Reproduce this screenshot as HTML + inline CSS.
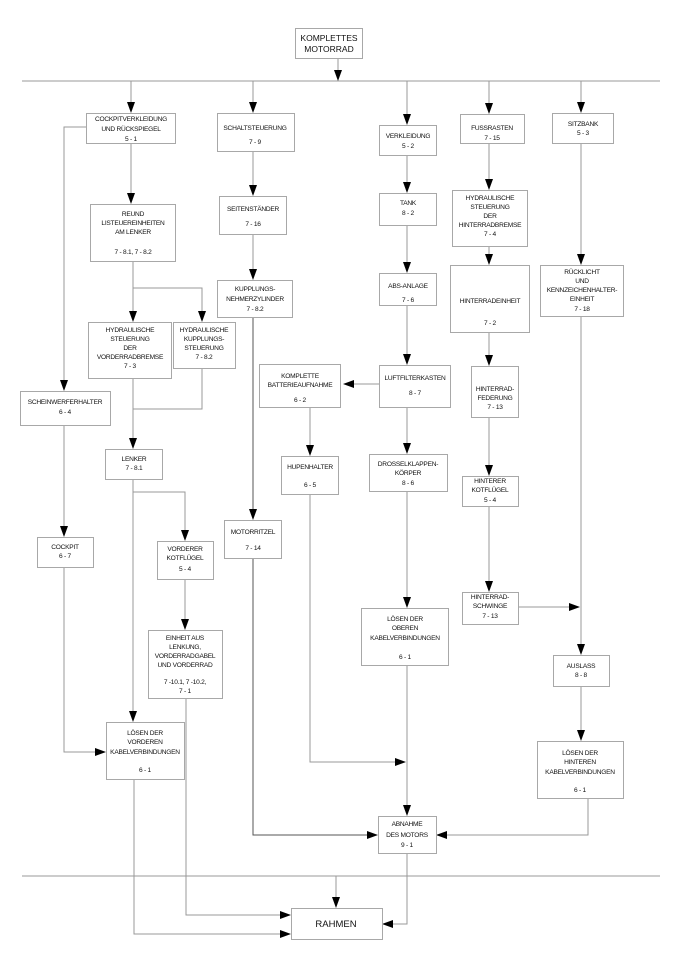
<!DOCTYPE html>
<html><head><meta charset="utf-8"><style>
html,body{margin:0;padding:0;background:#fff}
svg{display:block}
text{font-family:"Liberation Sans",sans-serif;font-size:6.6px;fill:#111;text-anchor:middle;letter-spacing:-0.25px}
.r{fill:#fff;stroke:#a8a8a8;stroke-width:1}
.l{stroke:#999;stroke-width:1;fill:none}
.d{stroke:#555;stroke-width:1;fill:none}
</style></head><body>
<svg width="679" height="965" viewBox="0 0 679 965" xmlns="http://www.w3.org/2000/svg">
<!-- lines -->
<g class="l">
<line x1="22" y1="81" x2="660" y2="81"/>
<line x1="22" y1="876" x2="660" y2="876"/>
<line x1="338" y1="58" x2="338" y2="72"/>
<line x1="131" y1="81" x2="131" y2="104"/>
<line x1="253" y1="81" x2="253" y2="104"/>
<line x1="407" y1="81" x2="407" y2="116"/>
<line x1="489" y1="81" x2="489" y2="105"/>
<line x1="581" y1="81" x2="581" y2="104"/>
<polyline points="86,127 64,127 64,382"/>
<line x1="131" y1="143" x2="131" y2="195"/>
<polyline points="133,261 133,313"/>
<polyline points="133,288 202,288 202,313"/>
<polyline points="133,378 133,440"/>
<polyline points="202,368 202,409 133,409"/>
<line x1="253" y1="151" x2="253" y2="187"/>
<line x1="253" y1="234" x2="253" y2="271"/>
<line x1="64" y1="425" x2="64" y2="528"/>
<polyline points="64,567 64,752 97,752"/>
<line x1="133" y1="479" x2="133" y2="713"/>
<polyline points="133,492 185,492 185,532"/>
<line x1="185" y1="579" x2="185" y2="621"/>
<polyline points="186,698 186,915 282,915"/>
<polyline points="134,780 134,934 282,934"/>
<line x1="407" y1="155" x2="407" y2="184"/>
<line x1="407" y1="225" x2="407" y2="264"/>
<line x1="407" y1="305" x2="407" y2="356"/>
<line x1="379" y1="384" x2="352" y2="384"/>
<line x1="310" y1="407" x2="310" y2="447"/>
<polyline points="310,494 310,762 397,762"/>
<line x1="407" y1="407" x2="407" y2="445"/>
<line x1="407" y1="491" x2="407" y2="599"/>
<line x1="407" y1="665" x2="407" y2="807"/>
<line x1="489" y1="143" x2="489" y2="181"/>
<line x1="489" y1="246" x2="489" y2="256"/>
<line x1="489" y1="332" x2="489" y2="357"/>
<line x1="489" y1="417" x2="489" y2="467"/>
<line x1="489" y1="507" x2="489" y2="583"/>
<line x1="581" y1="143" x2="581" y2="256"/>
<line x1="581" y1="316" x2="581" y2="646"/>
<line x1="518" y1="607" x2="571" y2="607"/>
<line x1="581" y1="686" x2="581" y2="732"/>
<polyline points="588,798 588,835 445,835"/>
<polyline points="407,853 407,924 391,924"/>
<line x1="336" y1="876" x2="336" y2="899"/>
</g>
<g class="d">
<line x1="253" y1="317" x2="253" y2="511"/>
<polyline points="253,558 253,835 369,835"/>
</g>
<!-- arrowheads -->
<g fill="#000">
<polygon points="334,70 342,70 338,81"/>
<polygon points="127,102 135,102 131,113"/>
<polygon points="249,102 257,102 253,113"/>
<polygon points="403,114 411,114 407,125"/>
<polygon points="485,103 493,103 489,114"/>
<polygon points="577,102 585,102 581,113"/>
<polygon points="60,380 68,380 64,391"/>
<polygon points="127,193 135,193 131,204"/>
<polygon points="249,185 257,185 253,196"/>
<polygon points="249,269 257,269 253,280"/>
<polygon points="129,311 137,311 133,322"/>
<polygon points="198,311 206,311 202,322"/>
<polygon points="129,438 137,438 133,449"/>
<polygon points="60,526 68,526 64,537"/>
<polygon points="181,530 189,530 185,541"/>
<polygon points="181,619 189,619 185,630"/>
<polygon points="129,711 137,711 133,722"/>
<polygon points="95,748 95,756 106,752"/>
<polygon points="249,509 257,509 253,520"/>
<polygon points="306,445 314,445 310,456"/>
<polygon points="403,182 411,182 407,193"/>
<polygon points="403,262 411,262 407,273"/>
<polygon points="403,354 411,354 407,365"/>
<polygon points="354,380 354,388 343,384"/>
<polygon points="403,443 411,443 407,454"/>
<polygon points="403,597 411,597 407,608"/>
<polygon points="395,758 395,766 406,762"/>
<polygon points="485,179 493,179 489,190"/>
<polygon points="485,254 493,254 489,265"/>
<polygon points="485,355 493,355 489,366"/>
<polygon points="485,465 493,465 489,476"/>
<polygon points="485,581 493,581 489,592"/>
<polygon points="577,254 585,254 581,265"/>
<polygon points="569,603 569,611 580,607"/>
<polygon points="577,644 585,644 581,655"/>
<polygon points="577,730 585,730 581,741"/>
<polygon points="403,805 411,805 407,816"/>
<polygon points="367,831 367,839 378,835"/>
<polygon points="447,831 447,839 436,835"/>
<polygon points="332,897 340,897 336,908"/>
<polygon points="280,911 280,919 291,915"/>
<polygon points="280,930 280,938 291,934"/>
<polygon points="393,920 393,928 382,924"/>
</g>
<!-- boxes -->
<rect class="r" x="295.5" y="28.5" width="67" height="30"/>
<text x="329" y="41" style="font-size:8.5px;letter-spacing:0">KOMPLETTES</text>
<text x="329" y="52" style="font-size:8.5px;letter-spacing:0">MOTORRAD</text>

<rect class="r" x="86.5" y="113.5" width="89" height="30"/>
<text x="131" y="121">COCKPITVERKLEIDUNG</text><text x="131" y="131">UND RÜCKSPIEGEL</text><text x="131" y="141">5 - 1</text>

<rect class="r" x="217.5" y="113.5" width="77" height="38"/>
<text x="255" y="130">SCHALTSTEUERUNG</text><text x="255" y="144">7 - 9</text>

<rect class="r" x="219.5" y="196.5" width="67" height="38"/>
<text x="253" y="211">SEITENSTÄNDER</text><text x="253" y="226">7 - 16</text>

<rect class="r" x="217.5" y="280.5" width="75" height="37"/>
<text x="255" y="291">KUPPLUNGS-</text><text x="255" y="301">NEHMERZYLINDER</text><text x="255" y="311">7 - 8.2</text>

<rect class="r" x="90.5" y="204.5" width="85" height="57"/>
<text x="133" y="216">REUND</text><text x="133" y="225">LISTEUEREINHEITEN</text><text x="133" y="234">AM LENKER</text><text x="133" y="254">7 - 8.1, 7 - 8.2</text>

<rect class="r" x="88.5" y="322.5" width="83" height="56"/>
<text x="130" y="332">HYDRAULISCHE</text><text x="130" y="341">STEUERUNG</text><text x="130" y="350">DER</text><text x="130" y="359">VORDERRADBREMSE</text><text x="130" y="368">7 - 3</text>

<rect class="r" x="173.5" y="322.5" width="62" height="46"/>
<text x="204" y="332">HYDRAULISCHE</text><text x="204" y="341">KUPPLUNGS-</text><text x="204" y="350">STEUERUNG</text><text x="204" y="359">7 - 8.2</text>

<rect class="r" x="20.5" y="391.5" width="90" height="34"/>
<text x="65" y="404">SCHEINWERFERHALTER</text><text x="65" y="414">6 - 4</text>

<rect class="r" x="259.5" y="364.5" width="81" height="43"/>
<text x="300" y="378">KOMPLETTE</text><text x="300" y="387">BATTERIEAUFNAHME</text><text x="300" y="402">6 - 2</text>

<rect class="r" x="379.5" y="125.5" width="57" height="30"/>
<text x="408" y="138">VERKLEIDUNG</text><text x="408" y="148">5 - 2</text>

<rect class="r" x="460.5" y="114.5" width="64" height="29"/>
<text x="492" y="130">FUSSRASTEN</text><text x="492" y="140">7 - 15</text>

<rect class="r" x="552.5" y="113.5" width="61" height="30"/>
<text x="583" y="126">SITZBANK</text><text x="583" y="135">5 - 3</text>

<rect class="r" x="379.5" y="193.5" width="57" height="32"/>
<text x="408" y="205">TANK</text><text x="408" y="215">8 - 2</text>

<rect class="r" x="452.5" y="190.5" width="75" height="56"/>
<text x="490" y="200">HYDRAULISCHE</text><text x="490" y="209">STEUERUNG</text><text x="490" y="218">DER</text><text x="490" y="227">HINTERRADBREMSE</text><text x="490" y="236">7 - 4</text>

<rect class="r" x="379.5" y="273.5" width="57" height="32"/>
<text x="408" y="288">ABS-ANLAGE</text><text x="408" y="302">7 - 6</text>

<rect class="r" x="450.5" y="265.5" width="79" height="67"/>
<text x="490" y="303">HINTERRADEINHEIT</text><text x="490" y="325">7 - 2</text>

<rect class="r" x="540.5" y="265.5" width="83" height="51"/>
<text x="582" y="274">RÜCKLICHT</text><text x="582" y="283">UND</text><text x="582" y="292">KENNZEICHENHALTER-</text><text x="582" y="301">EINHEIT</text><text x="582" y="311">7 - 18</text>

<rect class="r" x="379.5" y="365.5" width="71" height="42"/>
<text x="415" y="380">LUFTFILTERKASTEN</text><text x="415" y="395">8 - 7</text>

<rect class="r" x="471.5" y="366.5" width="47" height="51"/>
<text x="495" y="391">HINTERRAD-</text><text x="495" y="400">FEDERUNG</text><text x="495" y="409">7 - 13</text>

<rect class="r" x="105.5" y="449.5" width="57" height="30"/>
<text x="134" y="461">LENKER</text><text x="134" y="470">7 - 8.1</text>

<rect class="r" x="37.5" y="537.5" width="56" height="30"/>
<text x="65" y="549">COCKPIT</text><text x="65" y="558">6 - 7</text>

<rect class="r" x="224.5" y="520.5" width="57" height="38"/>
<text x="253" y="534">MOTORRITZEL</text><text x="253" y="550">7 - 14</text>

<rect class="r" x="281.5" y="456.5" width="57" height="38"/>
<text x="310" y="469">HUPENHALTER</text><text x="310" y="487">6 - 5</text>

<rect class="r" x="157.5" y="541.5" width="56" height="38"/>
<text x="185" y="551">VORDERER</text><text x="185" y="560">KOTFLÜGEL</text><text x="185" y="571">5 - 4</text>

<rect class="r" x="148.5" y="630.5" width="74" height="68"/>
<text x="185" y="640">EINHEIT AUS</text><text x="185" y="649">LENKUNG,</text><text x="185" y="658">VORDERRADGABEL</text><text x="185" y="667">UND VORDERRAD</text><text x="185" y="684">7 -10.1, 7 -10.2,</text><text x="185" y="693">7 - 1</text>

<rect class="r" x="106.5" y="722.5" width="78" height="57"/>
<text x="145" y="735">LÖSEN DER</text><text x="145" y="744">VORDEREN</text><text x="145" y="754">KABELVERBINDUNGEN</text><text x="145" y="772">6 - 1</text>

<rect class="r" x="369.5" y="454.5" width="78" height="37"/>
<text x="408" y="466">DROSSELKLAPPEN-</text><text x="408" y="475">KÖRPER</text><text x="408" y="485">8 - 6</text>

<rect class="r" x="462.5" y="476.5" width="56" height="30"/>
<text x="490" y="483">HINTERER</text><text x="490" y="492">KOTFLÜGEL</text><text x="490" y="502">5 - 4</text>

<rect class="r" x="462.5" y="592.5" width="56" height="32"/>
<text x="490" y="599">HINTERRAD-</text><text x="490" y="608">SCHWINGE</text><text x="490" y="618">7 - 13</text>

<rect class="r" x="361.5" y="608.5" width="87" height="57"/>
<text x="405" y="621">LÖSEN DER</text><text x="405" y="630">OBEREN</text><text x="405" y="640">KABELVERBINDUNGEN</text><text x="405" y="659">6 - 1</text>

<rect class="r" x="553.5" y="655.5" width="56" height="31"/>
<text x="581" y="668">AUSLASS</text><text x="581" y="677">8 - 8</text>

<rect class="r" x="537.5" y="741.5" width="86" height="57"/>
<text x="580" y="755">LÖSEN DER</text><text x="580" y="764">HINTEREN</text><text x="580" y="774">KABELVERBINDUNGEN</text><text x="580" y="792">6 - 1</text>

<rect class="r" x="378.5" y="816.5" width="58" height="37"/>
<text x="407" y="826">ABNAHME</text><text x="407" y="837">DES MOTORS</text><text x="407" y="847">9 - 1</text>

<rect class="r" x="291.5" y="908.5" width="91" height="31"/>
<text x="336" y="927" style="font-size:9.5px;letter-spacing:0">RAHMEN</text>
</svg>
</body></html>
